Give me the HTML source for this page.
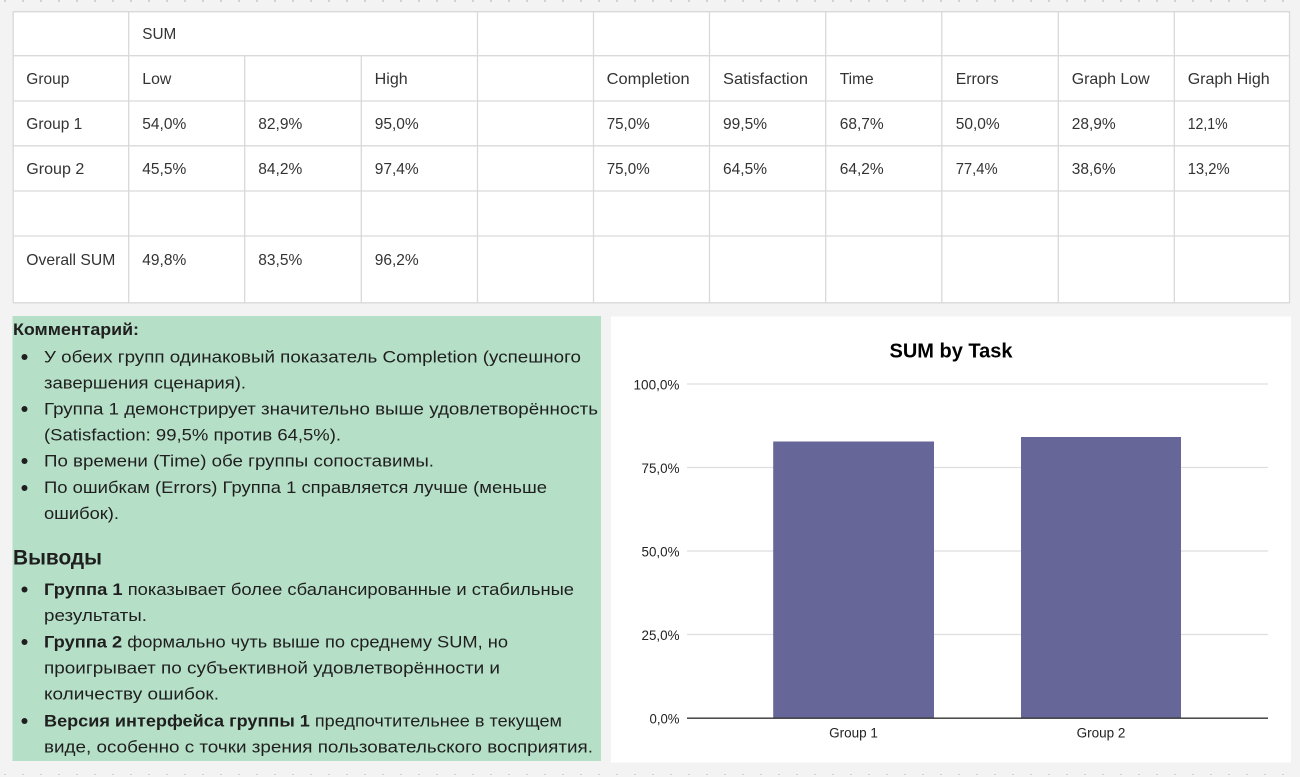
<!DOCTYPE html>
<html><head><meta charset="utf-8"><style>
html,body{margin:0;padding:0;background:#f3f3f3;}
svg{display:block;}
text{font-family:"Liberation Sans","Noto Sans CJK SC",sans-serif;}
</style></head><body>
<svg width="1300" height="777" viewBox="0 0 1300 777" xmlns="http://www.w3.org/2000/svg">
<defs>
<pattern id="dots" x="4" y="0" width="18" height="6" patternUnits="userSpaceOnUse">
<rect x="0" y="0" width="2" height="2" fill="#d2d2d2"/>
</pattern>
</defs>
<rect width="1300" height="777" fill="#f3f3f3"/>
<rect x="0" y="0" width="1300" height="3" fill="url(#dots)"/>
<rect x="0" y="772" width="1300" height="3" fill="url(#dots)"/>

<!-- TABLE -->
<rect x="13" y="11.5" width="1277" height="291.5" fill="#ffffff"/>
<g stroke="#d9d9d9" stroke-width="1.3" fill="none">
<line x1="13" y1="11.7" x2="1290" y2="11.7"/>
<line x1="13" y1="55.7" x2="1290" y2="55.7"/>
<line x1="13" y1="101" x2="1290" y2="101"/>
<line x1="13" y1="145.8" x2="1290" y2="145.8"/>
<line x1="13" y1="191" x2="1290" y2="191"/>
<line x1="13" y1="236" x2="1290" y2="236"/>
<line x1="13" y1="302.8" x2="1290" y2="302.8"/>
<line x1="13.2" y1="11.7" x2="13.2" y2="302.8"/>
<line x1="128.7" y1="11.7" x2="128.7" y2="302.8"/>
<line x1="244.7" y1="55.7" x2="244.7" y2="302.8"/>
<line x1="361.3" y1="55.7" x2="361.3" y2="302.8"/>
<line x1="477.5" y1="11.7" x2="477.5" y2="302.8"/>
<line x1="593.5" y1="11.7" x2="593.5" y2="302.8"/>
<line x1="709.5" y1="11.7" x2="709.5" y2="302.8"/>
<line x1="825.7" y1="11.7" x2="825.7" y2="302.8"/>
<line x1="941.8" y1="11.7" x2="941.8" y2="302.8"/>
<line x1="1058.3" y1="11.7" x2="1058.3" y2="302.8"/>
<line x1="1174.3" y1="11.7" x2="1174.3" y2="302.8"/>
<line x1="1289.5" y1="11.7" x2="1289.5" y2="302.8"/>
</g>
<g font-size="16" fill="#333333">
<text x="142.3" y="39" textLength="34" lengthAdjust="spacingAndGlyphs">SUM</text>
<text x="26.3" y="84" textLength="43" lengthAdjust="spacingAndGlyphs">Group</text>
<text x="142.3" y="84" textLength="29" lengthAdjust="spacingAndGlyphs">Low</text>
<text x="374.7" y="84" textLength="33" lengthAdjust="spacingAndGlyphs">High</text>
<text x="606.7" y="84" textLength="83" lengthAdjust="spacingAndGlyphs">Completion</text>
<text x="723" y="84" textLength="85" lengthAdjust="spacingAndGlyphs">Satisfaction</text>
<text x="839.7" y="84" textLength="34" lengthAdjust="spacingAndGlyphs">Time</text>
<text x="955.7" y="84" textLength="43" lengthAdjust="spacingAndGlyphs">Errors</text>
<text x="1071.7" y="84" textLength="78" lengthAdjust="spacingAndGlyphs">Graph Low</text>
<text x="1187.7" y="84" textLength="82" lengthAdjust="spacingAndGlyphs">Graph High</text>

<text x="26.3" y="129" textLength="56" lengthAdjust="spacingAndGlyphs">Group 1</text>
<text x="142.3" y="129" textLength="44" lengthAdjust="spacingAndGlyphs">54,0%</text>
<text x="258.3" y="129" textLength="44" lengthAdjust="spacingAndGlyphs">82,9%</text>
<text x="374.7" y="129" textLength="44" lengthAdjust="spacingAndGlyphs">95,0%</text>
<text x="606.7" y="129" textLength="43" lengthAdjust="spacingAndGlyphs">75,0%</text>
<text x="723" y="129" textLength="44" lengthAdjust="spacingAndGlyphs">99,5%</text>
<text x="839.7" y="129" textLength="44" lengthAdjust="spacingAndGlyphs">68,7%</text>
<text x="955.7" y="129" textLength="44" lengthAdjust="spacingAndGlyphs">50,0%</text>
<text x="1071.7" y="129" textLength="44" lengthAdjust="spacingAndGlyphs">28,9%</text>
<text x="1187.7" y="129" textLength="40" lengthAdjust="spacingAndGlyphs">12,1%</text>

<text x="26.3" y="174" textLength="58" lengthAdjust="spacingAndGlyphs">Group 2</text>
<text x="142.3" y="174" textLength="44" lengthAdjust="spacingAndGlyphs">45,5%</text>
<text x="258.3" y="174" textLength="44" lengthAdjust="spacingAndGlyphs">84,2%</text>
<text x="374.7" y="174" textLength="44" lengthAdjust="spacingAndGlyphs">97,4%</text>
<text x="606.7" y="174" textLength="43" lengthAdjust="spacingAndGlyphs">75,0%</text>
<text x="723" y="174" textLength="44" lengthAdjust="spacingAndGlyphs">64,5%</text>
<text x="839.7" y="174" textLength="44" lengthAdjust="spacingAndGlyphs">64,2%</text>
<text x="955.7" y="174" textLength="42" lengthAdjust="spacingAndGlyphs">77,4%</text>
<text x="1071.7" y="174" textLength="44" lengthAdjust="spacingAndGlyphs">38,6%</text>
<text x="1187.7" y="174" textLength="42" lengthAdjust="spacingAndGlyphs">13,2%</text>

<text x="26.3" y="265" textLength="89" lengthAdjust="spacingAndGlyphs">Overall SUM</text>
<text x="142.3" y="265" textLength="44" lengthAdjust="spacingAndGlyphs">49,8%</text>
<text x="258.3" y="265" textLength="44" lengthAdjust="spacingAndGlyphs">83,5%</text>
<text x="374.7" y="265" textLength="44" lengthAdjust="spacingAndGlyphs">96,2%</text>
</g>

<!-- GREEN PANEL -->
<rect x="12.5" y="316" width="588.5" height="445" fill="#b6dfc7"/>
<g fill="#1f1f1f" font-size="17">
<text x="13" y="335" font-weight="bold" textLength="126" lengthAdjust="spacingAndGlyphs">Комментарий:</text>
<g fill="#1f1f1f">
<circle cx="24.5" cy="357" r="3"/>
<circle cx="24.5" cy="409" r="3"/>
<circle cx="24.5" cy="461" r="3"/>
<circle cx="24.5" cy="488" r="3"/>
<circle cx="24.5" cy="589.5" r="3"/>
<circle cx="24.5" cy="642" r="3"/>
<circle cx="24.5" cy="721" r="3"/>
</g>
<text x="44" y="362.5" textLength="537" lengthAdjust="spacingAndGlyphs">У обеих групп одинаковый показатель Completion (успешного</text>
<text x="44" y="388.5" textLength="202" lengthAdjust="spacingAndGlyphs">завершения сценария).</text>
<text x="44" y="414.5" textLength="554" lengthAdjust="spacingAndGlyphs">Группа 1 демонстрирует значительно выше удовлетворённость</text>
<text x="44" y="440.5" textLength="297" lengthAdjust="spacingAndGlyphs">(Satisfaction: 99,5% против 64,5%).</text>
<text x="44" y="466.5" textLength="390" lengthAdjust="spacingAndGlyphs">По времени (Time) обе группы сопоставимы.</text>
<text x="44" y="493" textLength="503" lengthAdjust="spacingAndGlyphs">По ошибкам (Errors) Группа 1 справляется лучше (меньше</text>
<text x="44" y="519" textLength="75" lengthAdjust="spacingAndGlyphs">ошибок).</text>

<text x="13" y="564.5" font-size="21" font-weight="bold" textLength="89" lengthAdjust="spacingAndGlyphs">Выводы</text>

<text x="44" y="595" textLength="530" lengthAdjust="spacingAndGlyphs"><tspan font-weight="bold">Группа 1</tspan> показывает более сбалансированные и стабильные</text>
<text x="44" y="621" textLength="103" lengthAdjust="spacingAndGlyphs">результаты.</text>
<text x="44" y="647.5" textLength="464" lengthAdjust="spacingAndGlyphs"><tspan font-weight="bold">Группа 2</tspan> формально чуть выше по среднему SUM, но</text>
<text x="44" y="673.5" textLength="456" lengthAdjust="spacingAndGlyphs">проигрывает по субъективной удовлетворённости и</text>
<text x="44" y="699.5" textLength="175" lengthAdjust="spacingAndGlyphs">количеству ошибок.</text>
<text x="44" y="726.5" textLength="518" lengthAdjust="spacingAndGlyphs"><tspan font-weight="bold">Версия интерфейса группы 1</tspan> предпочтительнее в текущем</text>
<text x="44" y="752.5" textLength="549" lengthAdjust="spacingAndGlyphs">виде, особенно с точки зрения пользовательского восприятия.</text>
</g>

<!-- CHART CARD -->
<rect x="611" y="316.5" width="680" height="446" fill="#ffffff"/>
<text x="951" y="357.3" font-size="20" font-weight="bold" text-anchor="middle" fill="#000">SUM by Task</text>
<g stroke="#dedede" stroke-width="1.3">
<line x1="687" y1="384" x2="1268" y2="384"/>
<line x1="687" y1="467.5" x2="1268" y2="467.5"/>
<line x1="687" y1="551" x2="1268" y2="551"/>
<line x1="687" y1="634.5" x2="1268" y2="634.5"/>
</g>
<rect x="773.2" y="441.5" width="160.8" height="276.5" fill="#676699"/>
<rect x="1021" y="437" width="160" height="281" fill="#676699"/>
<line x1="687" y1="718.2" x2="1268" y2="718.2" stroke="#333" stroke-width="1.4"/>
<g font-size="13.5" fill="#222" text-anchor="end">
<text x="679.5" y="389.3" textLength="46" lengthAdjust="spacingAndGlyphs">100,0%</text>
<text x="679.5" y="472.8" textLength="38" lengthAdjust="spacingAndGlyphs">75,0%</text>
<text x="679.5" y="556.3" textLength="38" lengthAdjust="spacingAndGlyphs">50,0%</text>
<text x="679.5" y="639.8" textLength="38" lengthAdjust="spacingAndGlyphs">25,0%</text>
<text x="679.5" y="723.3" textLength="30" lengthAdjust="spacingAndGlyphs">0,0%</text>
</g>
<g font-size="13.5" fill="#222" text-anchor="middle">
<text x="853.5" y="737.7">Group 1</text>
<text x="1101" y="737.7">Group 2</text>
</g>
</svg>
</body></html>
